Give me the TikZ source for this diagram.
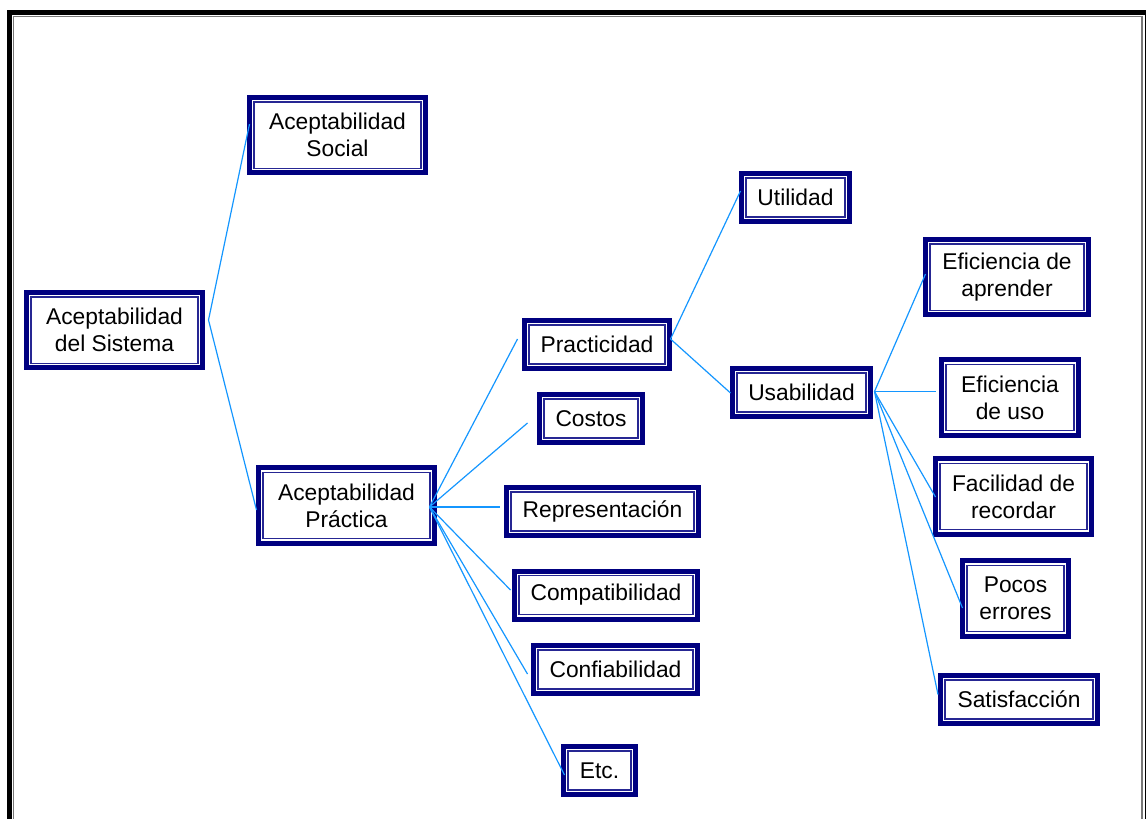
\documentclass[tikz,border=0pt]{standalone}
\usepackage{fontspec}
\setmainfont{Liberation Sans}
\usetikzlibrary{calc}
\definecolor{boxnavy}{RGB}{0,0,128}
\definecolor{linkblue}{RGB}{20,150,255}
\definecolor{framegray}{RGB}{120,120,120}
\tikzset{
  ibox/.style={draw=boxnavy, line width=5pt, fill=white, align=center,
    inner sep=0pt, minimum width=#1,
    font=\fontsize{22.8}{27}\selectfont,
    path picture={\draw[boxnavy!85!white, line width=1.3pt]
      ([shift={(4.6pt,4.6pt)}]path picture bounding box.south west) rectangle
      ([shift={(-4.6pt,-4.6pt)}]path picture bounding box.north east);}},
  tall/.style={minimum height=75.5pt},
  short/.style={minimum height=48pt},
  conn/.style={draw=linkblue, line width=1.2pt}
}
\begin{document}
\begin{tikzpicture}[x=1pt,y=-1pt]
\useasboundingbox (0,0) rectangle (1146,819);
% page frame
\draw[black, line width=4.6pt] (9.2,840) -- (9.2,12.3) -- (1146.8,12.3) -- (1146.8,840);
\draw[framegray, line width=1.2pt] (13.6,840) -- (13.6,16.6) -- (1142,16.6) -- (1142,840);

% nodes
\node[ibox=176pt, tall] (sis) at (114.5,330) {Aceptabilidad\\del Sistema};
\node[ibox=176pt, tall] (soc) at (337.5,135) {Aceptabilidad\\Social};
\node[ibox=176pt, tall] (pra) at (346.5,505.5) {Aceptabilidad\\Práctica};
\node[ibox=145pt, short] (prac) at (597,344.5) {Practicidad};
\node[ibox=103pt, short] (cos) at (591,418.5) {Costos};
\node[ibox=192pt, short] (rep) at (602.5,511.5) {Representación};
\node[ibox=183pt, short] (com) at (606,595) {Compatibilidad};
\node[ibox=164pt, short] (conf) at (615.5,669.5) {Confiabilidad};
\node[ibox=72pt, short] (etc) at (599.5,770.5) {Etc.};
\node[ibox=108pt, short] (util) at (795.5,197.5) {Utilidad};
\node[ibox=138pt, short] (usa) at (801.5,392.5) {Usabilidad};
\node[ibox=163pt, tall] (efa) at (1007,277) {Eficiencia de\\aprender};
\node[ibox=137pt, tall] (efu) at (1010,397.5) {Eficiencia\\de uso};
\node[ibox=156pt, tall] (fac) at (1013.5,496.5) {Facilidad de\\recordar};
\node[ibox=106pt, tall] (poc) at (1015.5,598.5) {Pocos\\errores};
\node[ibox=157pt, short] (sat) at (1019,699.5) {Satisfacción};

% branching points on the right side of each parent
\coordinate (sisout) at ($(sis.east)+(3.5,-10)$);
\coordinate (praout) at ($(pra.east)+(-7.5,1.5)$);
\coordinate (pracout) at ($(prac.east)+(-1.5,-5.5)$);
\coordinate (usaout) at ($(usa.east)+(1.5,-1)$);

% connectors
\draw[conn] (sisout) -- ($(soc.west)+(2.5,-11)$);
\draw[conn] (sisout) -- ($(pra.west)+(0.5,4.5)$);

\draw[conn] (praout) -- ($(prac.west)+(-4.5,-5.5)$);
\draw[conn] (praout) -- ($(cos.west)+(-9.5,4.5)$);
\draw[conn] (praout) -- ($(rep.west)+(-4.5,-4.5)$);
\draw[conn] (praout) -- ($(com.west)+(-1.5,-5)$);
\draw[conn] (praout) -- ($(conf.west)+(-3.5,4.5)$);
\draw[conn] (praout) -- ($(etc.west)+(3.5,4.5)$);

\draw[conn] (pracout) -- ($(util.west)+(1.5,-6.5)$);
\draw[conn] (pracout) -- ($(usa.west)+(0.5,0.5)$);

\draw[conn] (usaout) -- ($(efa.west)+(2.5,-3)$);
\draw[conn] (usaout) -- ($(efu.west)+(-3.5,-6)$);
\draw[conn] (usaout) -- ($(fac.west)+(2.5,0.5)$);
\draw[conn] (usaout) -- ($(poc.west)+(2.5,9.5)$);
\draw[conn] (usaout) -- ($(sat.west)+(0,-5)$);
\end{tikzpicture}
\end{document}
